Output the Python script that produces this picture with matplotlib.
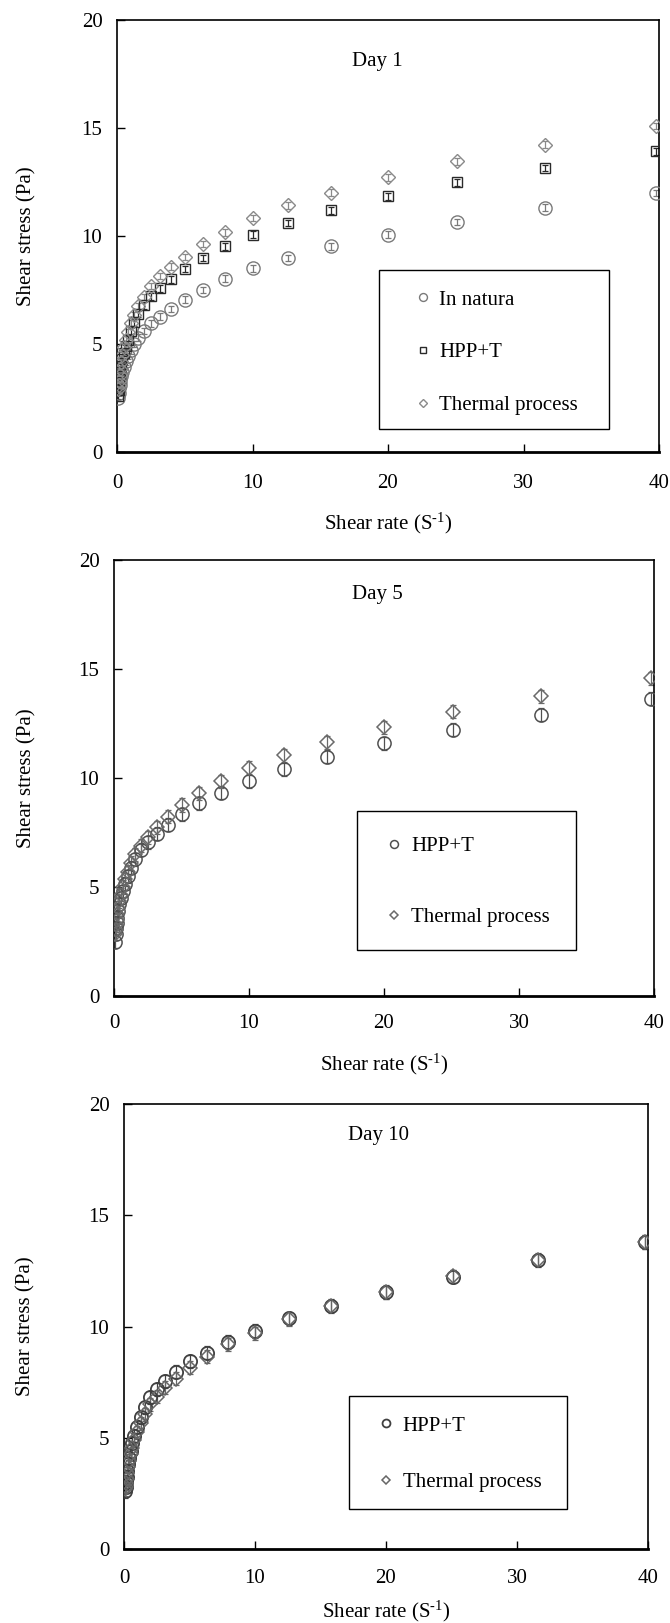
"""
Shear stress vs shear rate — Day 1 / Day 5 / Day 10 (three stacked panels).
"""
import matplotlib

matplotlib.use("Agg")
import matplotlib.pyplot as plt
from matplotlib.patches import Rectangle

plt.rcParams["font.family"] = ["Liberation Serif", "DejaVu Serif"]
plt.rcParams["mathtext.fontset"] = "custom"
plt.rcParams["mathtext.rm"] = "Liberation Serif"
plt.rcParams["mathtext.it"] = "Liberation Serif:italic"

# ── data ──────────────────────────────────────────────────────────────
shear_rate = [0.1, 0.126, 0.158, 0.2, 0.251, 0.316, 0.398, 0.501, 0.631, 0.794,
              1.0, 1.26, 1.58, 2.0, 2.51, 3.16, 3.98, 5.01, 6.31, 7.94,
              10.0, 12.6, 15.8, 20.0, 25.1, 31.6, 39.8]

# Day 1
d1_natura = [2.5, 2.75, 2.95, 3.1, 3.3, 3.5, 3.7, 3.95, 4.2, 4.45,
             4.7, 5.0, 5.3, 5.6, 5.95, 6.27, 6.63, 7.05, 7.49, 8.03,
             8.5, 8.99, 9.52, 10.06, 10.65, 11.31, 12.0]
d1_hpp = [2.6, 2.85, 3.1, 3.4, 3.7, 4.0, 4.3, 4.6, 4.9, 5.2,
          5.6, 6.0, 6.4, 6.79, 7.21, 7.57, 7.99, 8.47, 8.97, 9.52,
          10.06, 10.61, 11.19, 11.83, 12.48, 13.15, 13.92]
d1_thermal = [2.9, 3.1, 3.3, 3.55, 3.85, 4.15, 4.5, 4.85, 5.2, 5.55,
              5.95, 6.35, 6.75, 7.18, 7.68, 8.14, 8.58, 9.02, 9.64, 10.17,
              10.84, 11.42, 12.01, 12.71, 13.45, 14.23, 15.1]

# Day 5
d5_hpp = [2.5, 2.85, 3.1, 3.35, 3.6, 3.9, 4.2, 4.5, 4.8, 5.15,
          5.5, 5.89, 6.28, 6.7, 7.05, 7.44, 7.86, 8.33, 8.84, 9.33,
          9.84, 10.39, 10.98, 11.6, 12.22, 12.91, 13.64]
d5_thermal = [2.85, 3.05, 3.25, 3.5, 3.75, 4.05, 4.35, 4.65, 5.0, 5.35,
              5.7, 6.1, 6.5, 6.9, 7.29, 7.75, 8.22, 8.76, 9.3, 9.84,
              10.47, 11.04, 11.63, 12.33, 13.05, 13.75, 14.57]

# Day 10
d10_hpp = [2.6, 2.8, 3.0, 3.25, 3.5, 3.8, 4.1, 4.4, 4.75, 5.1,
           5.5, 5.92, 6.36, 6.81, 7.17, 7.54, 7.97, 8.43, 8.83, 9.31,
           9.8, 10.36, 10.93, 11.54, 12.24, 12.98, 13.79]
d10_thermal = [2.7, 2.8, 2.95, 3.15, 3.4, 3.7, 3.95, 4.25, 4.55, 4.9,
               5.25, 5.65, 6.05, 6.5, 6.85, 7.25, 7.65, 8.15, 8.65, 9.2,
               9.7, 10.33, 10.9, 11.55, 12.25, 13.0, 13.8]

# error bar half-widths (roughly constant per series)
err_d1 = 0.15
err_d5 = 0.3
err_d10 = 0.3

W, H = 670, 1623
fig = plt.figure(figsize=(W / 100, H / 100), dpi=100)


def add_panel(left, right, top, bottom):
    return fig.add_axes([left / W, 1 - bottom / H, (right - left) / W, (bottom - top) / H])


def style_axes(ax, ylab_x, xlab_y, pad_x):
    ax.set_xlim(0, 40)
    ax.set_ylim(0, 20)
    ax.set_xticks([0, 10, 20, 30, 40])
    ax.set_yticks([0, 5, 10, 15, 20])
    ax.tick_params(direction="in", length=6, width=1.0, labelsize=15)
    ax.tick_params(axis="y", pad=10.5)
    ax.tick_params(axis="x", pad=pad_x)
    for s in ax.spines.values():
        s.set_linewidth(1.2)
    ax.spines["bottom"].set_linewidth(2.0)
    ax.set_ylabel("Shear stress (Pa)", fontsize=15)
    ax.set_xlabel("Shear rate (S$^{\\text{-1}}$)", fontsize=15)
    ax.yaxis.set_label_coords(ylab_x, 0.5)
    ax.xaxis.set_label_coords(0.5, xlab_y)


def series(ax, y, err, marker, ms, color, lw, label):
    ax.errorbar(shear_rate, y, yerr=err, fmt="none", ecolor=color, elinewidth=0.9,
                capsize=2.5, capthick=0.9, zorder=2)
    h, = ax.plot(shear_rate, y, linestyle="none", marker=marker, ms=ms,
                 mfc="none", mec=color, mew=lw, label=label, zorder=3)
    return h


def legend_box(ax, box, anchor, spacing, handles):
    x0, y0, x1, y1 = box
    ax.add_patch(Rectangle((x0, y0), x1 - x0, y1 - y0, transform=ax.transAxes,
                           fill=False, edgecolor="black", linewidth=1.0, zorder=5))
    ax.legend(handles=handles, loc="upper left", bbox_to_anchor=anchor, frameon=False,
              fontsize=15, markerscale=0.6, handlelength=1.0, handletextpad=0.3,
              labelspacing=spacing, borderpad=0.0, borderaxespad=0.0)


# ── Day 1 ────────────────────────────────────────────────────────────
ax1 = add_panel(117, 659, 20, 452)
h1 = series(ax1, d1_natura, err_d1, "o", 9.5, "#7a7a7a", 1.0, "In natura")
h2 = series(ax1, d1_hpp, err_d1, "s", 7.5, "#2a2a2a", 1.0, "HPP+T")
h3 = series(ax1, d1_thermal, err_d1, "D", 7.5, "#8a8a8a", 1.0, "Thermal process")
style_axes(ax1, -0.149, -0.136, 16)
ax1.text(0.48, 0.905, "Day 1", transform=ax1.transAxes, ha="center", va="center", fontsize=15)
legend_box(ax1, (0.483, 0.053, 0.908, 0.421), (0.545, 0.375), 1.59, [h1, h2, h3])

# ── Day 5 ────────────────────────────────────────────────────────────
ax2 = add_panel(114, 654, 560, 996)
g1 = series(ax2, d5_hpp, err_d5, "o", 9.5, "#505050", 1.1, "HPP+T")
g2 = series(ax2, d5_thermal, err_d5, "D", 7.5, "#6a6a6a", 1.1, "Thermal process")
style_axes(ax2, -0.144, -0.127, 13.3)
ax2.text(0.487, 0.922, "Day 5", transform=ax2.transAxes, ha="center", va="center", fontsize=15)
legend_box(ax2, (0.45, 0.106, 0.856, 0.425), (0.5, 0.366), 2.49, [g1, g2])

# ── Day 10 ───────────────────────────────────────────────────────────
ax3 = add_panel(124, 648, 1104, 1549)
k1 = series(ax3, d10_hpp, err_d10, "o", 9.5, "#404040", 1.3, "HPP+T")
k2 = series(ax3, d10_thermal, err_d10, "D", 7.5, "#666666", 1.1, "Thermal process")
style_axes(ax3, -0.168, -0.111, 14.3)
ax3.text(0.485, 0.93, "Day 10", transform=ax3.transAxes, ha="center", va="center", fontsize=15)
legend_box(ax3, (0.429, 0.09, 0.845, 0.344), (0.48, 0.299), 1.79, [k1, k2])

fig.savefig("out.png", dpi=100)
plt.close(fig)
